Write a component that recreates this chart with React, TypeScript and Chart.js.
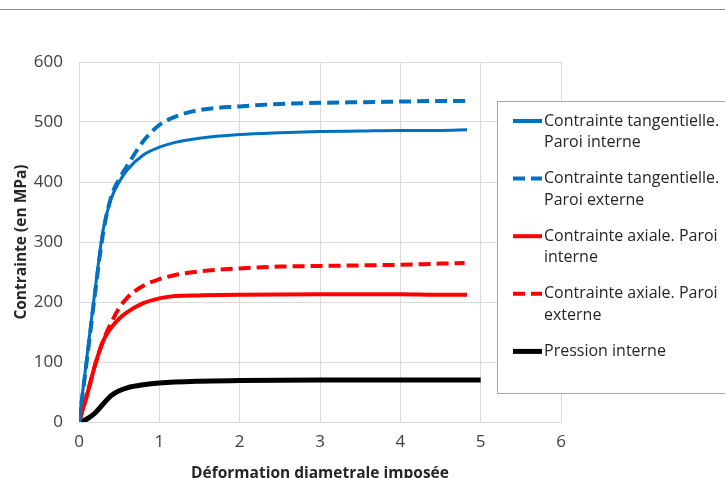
import { useEffect, useRef } from "react";
import { Chart, registerables } from "chart.js";

Chart.register(...registerables);

// ---- Data ----
const tangIntX = [0, 0.1, 0.2, 0.3, 0.4, 0.5, 0.6, 0.8, 1.0, 1.2, 1.5, 2.0, 2.5, 3.0, 3.5, 4.0, 4.5, 4.83];
const tangIntY = [0, 110, 220, 320, 372, 400, 420, 445, 458, 466, 473, 479, 482, 484, 485, 486, 486, 487];

const tangExtX = [0, 0.1, 0.2, 0.3, 0.4, 0.5, 0.6, 0.8, 1.0, 1.2, 1.5, 2.0, 2.5, 3.0, 3.5, 4.0, 4.5, 4.83];
const tangExtY = [0, 105, 215, 315, 375, 405, 427, 468, 495, 509, 520, 526, 530, 532, 533, 534, 535, 535];

const axIntX = [0, 0.1, 0.2, 0.3, 0.4, 0.5, 0.6, 0.8, 1.0, 1.2, 1.5, 2.0, 3.0, 4.0, 4.5, 4.83];
const axIntY = [0, 45, 95, 135, 157, 172, 183, 198, 206, 210, 211, 212, 213, 213, 212, 212];

const axExtX = [0, 0.1, 0.2, 0.3, 0.4, 0.5, 0.6, 0.8, 1.0, 1.2, 1.5, 2.0, 2.5, 3.0, 3.5, 4.0, 4.5, 4.8];
const axExtY = [0, 45, 95, 135, 165, 190, 207, 227, 238, 245, 251, 256, 259, 260, 261, 262, 264, 265];

const pressX = [0, 0.05, 0.1, 0.2, 0.3, 0.4, 0.5, 0.6, 0.8, 1.0, 1.5, 2.0, 3.0, 4.0, 5.0];
const pressY = [0, 2, 5, 15, 30, 44, 52, 57, 62, 65, 68, 69, 70, 70, 70];

const seriesLabels = [
  ["Contrainte tangentielle.", "Paroi interne"],
  ["Contrainte tangentielle.", "Paroi externe"],
  ["Contrainte axiale. Paroi", "interne"],
  ["Contrainte axiale. Paroi", "externe"],
  ["Pression interne"],
];

const xTitle = "Déformation diametrale imposée";
const yTitle = "Contrainte (en MPa)";

const FONT = "'Open Sans', Lato, sans-serif";

const zip = (xs: number[], ys: number[]) => xs.map((x, i) => ({ x, y: ys[i] }));

const legendPlugin = {
  id: "boxLegend",
  afterDraw(chart: any) {
    const ctx = chart.ctx as CanvasRenderingContext2D;
    ctx.save();
    // top rule of the chart frame
    ctx.strokeStyle = "#8c8c8c";
    ctx.lineWidth = 1;
    ctx.setLineDash([]);
    ctx.beginPath();
    ctx.moveTo(0, 9.5);
    ctx.lineTo(chart.width, 9.5);
    ctx.stroke();

    // legend box
    const bx = 497.5, by = 101.5, bw = 240, bh = 292;
    ctx.fillStyle = "#ffffff";
    ctx.fillRect(bx, by, bw, bh);
    ctx.strokeStyle = "#a6a6a6";
    ctx.strokeRect(bx, by, bw, bh);

    ctx.font = `16px ${FONT}`;
    ctx.textBaseline = "middle";
    ctx.textAlign = "left";
    chart.data.datasets.forEach((ds: any, i: number) => {
      const y = 121 + i * 57.6;
      ctx.save();
      ctx.strokeStyle = ds.borderColor;
      ctx.lineWidth = ds.legendWidth;
      ctx.lineCap = "butt";
      ctx.setLineDash(ds.borderDash || []);
      ctx.beginPath();
      ctx.moveTo(513, y);
      ctx.lineTo(542, y);
      ctx.stroke();
      ctx.restore();
      ctx.fillStyle = "#262626";
      seriesLabels[i].forEach((line, j) => {
        ctx.fillText(line, 544, y + j * 21.7);
      });
    });
    ctx.restore();
  },
};

export default function App() {
  const ref = useRef<HTMLCanvasElement>(null);

  useEffect(() => {
    if (!ref.current) return;
    const chart = new Chart(ref.current, {
      type: "line",
      data: {
        datasets: [
          {
            label: seriesLabels[0].join(" "),
            data: zip(tangIntX, tangIntY),
            borderColor: "#0070C0",
            borderWidth: 3,
            legendWidth: 4,
            pointRadius: 0,
            cubicInterpolationMode: "monotone",
          } as any,
          {
            label: seriesLabels[1].join(" "),
            data: zip(tangExtX, tangExtY),
            borderColor: "#0070C0",
            borderWidth: 4,
            legendWidth: 4,
            borderDash: [12, 6],
            pointRadius: 0,
            cubicInterpolationMode: "monotone",
          } as any,
          {
            label: seriesLabels[2].join(" "),
            data: zip(axIntX, axIntY),
            borderColor: "#FF0000",
            borderWidth: 4,
            legendWidth: 4,
            pointRadius: 0,
            cubicInterpolationMode: "monotone",
          } as any,
          {
            label: seriesLabels[3].join(" "),
            data: zip(axExtX, axExtY),
            borderColor: "#FF0000",
            borderWidth: 4,
            legendWidth: 4,
            borderDash: [12, 6],
            pointRadius: 0,
            cubicInterpolationMode: "monotone",
          } as any,
          {
            label: seriesLabels[4].join(" "),
            data: zip(pressX, pressY),
            borderColor: "#000000",
            borderWidth: 5,
            legendWidth: 5,
            pointRadius: 0,
            cubicInterpolationMode: "monotone",
          } as any,
        ],
      },
      options: {
        responsive: false,
        animation: false,
        devicePixelRatio: 1,
        layout: { padding: { top: 62, right: 164, left: 0, bottom: 0 } },
        plugins: {
          legend: { display: false },
          tooltip: { enabled: false },
        },
        scales: {
          x: {
            type: "linear",
            min: 0,
            max: 6,
            ticks: {
              stepSize: 1,
              padding: 10,
              color: "#404040",
              font: { family: FONT, size: 17 },
            },
            grid: { color: "#d9d9d9", drawTicks: false, lineWidth: 1 },
            border: { color: "#d9d9d9" },
            title: {
              display: true,
              text: xTitle,
              color: "#262626",
              font: { family: FONT, size: 15.5, weight: "bold", lineHeight: 1 },
              padding: { top: 0, bottom: -3 },
            },
            afterFit(scale: any) {
              scale.height = 56;
            },
          },
          y: {
            min: 0,
            max: 600,
            ticks: {
              stepSize: 100,
              padding: 16,
              color: "#404040",
              font: { family: FONT, size: 17 },
            },
            grid: { color: "#d9d9d9", drawTicks: false, lineWidth: 1 },
            border: { color: "#d9d9d9" },
            title: {
              display: true,
              text: yTitle,
              color: "#262626",
              font: { family: FONT, size: 15.5, weight: "bold", lineHeight: 1.2 },
              padding: { top: 12, bottom: 0 },
            },
            afterFit(scale: any) {
              scale.width = 79;
            },
          },
        },
      } as any,
      plugins: [legendPlugin],
    });
    return () => chart.destroy();
  }, []);

  return (
    <div style={{ position: "fixed", left: 0, top: 0, width: 725, height: 478, background: "#fff" }}>
      <canvas ref={ref} width={725} height={478} style={{ display: "block" }} />
    </div>
  );
}
